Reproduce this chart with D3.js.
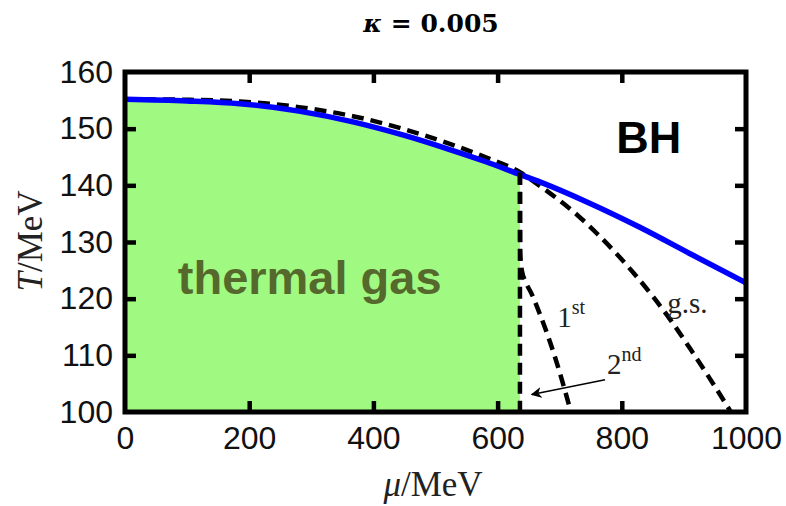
<!DOCTYPE html>
<html>
<head>
<meta charset="utf-8">
<script src="https://cdn.jsdelivr.net/npm/d3@7"></script>
<style>
  html, body { margin: 0; padding: 0; background: #fff; }
  svg { display: block; }
</style>
</head>
<body>
<svg id="chart" width="786" height="506"></svg>
<script>
// Phase boundaries in the (mu, T) plane, MeV
const bhMu = [0, 100, 185, 280, 367, 450, 523, 580, 636, 668, 749, 829, 914, 1000];
const bhT  = [155.2, 154.9, 154.4, 153.1, 151.2, 148.8, 146.3, 144.2, 141.9, 140.6, 136.8, 132.6, 127.7, 122.8];

const gsMu = [0, 100, 185, 280, 367, 450, 523, 580, 636, 668, 700, 730, 760, 790, 820, 850, 880, 910, 940, 970, 985];
const gsT  = [155.2, 155.1, 154.8, 153.8, 152.2, 149.9, 147.3, 145.0, 142.3, 139.9, 137.3, 134.6, 131.5, 128.1, 124.4, 120.4, 116.0, 111.2, 106.2, 101.0, 98.3];

const firstMu = [636, 636.5, 639, 645, 655, 668, 684, 700, 718];
const firstT  = [142.2, 128.0, 125.0, 123.0, 120.8, 117.3, 112.5, 107.0, 100.0];

const secondMu = [636, 636];
const secondT  = [142.2, 100.0];

const xTicks = [0, 200, 400, 600, 800, 1000];
const yTicks = [100, 110, 120, 130, 140, 150, 160];

const svg = d3.select("#chart");
const margin = { left: 125, right: 40, top: 72, bottom: 94 };
const W = 786, H = 506;
const iw = W - margin.left - margin.right;
const ih = H - margin.top - margin.bottom;

const x = d3.scaleLinear().domain([0, 1000]).range([0, iw]);
const y = d3.scaleLinear().domain([100, 160]).range([ih, 0]);

const zip = (a, b) => a.map((v, i) => [v, b[i]]);
const serif = "'Liberation Serif', 'Times New Roman', serif";
const sans = "'Liberation Sans', Arial, sans-serif";

// Title
svg.append("text")
  .attr("x", 431).attr("y", 32)
  .attr("text-anchor", "middle")
  .style("font-family", "'DejaVu Serif', serif")
  .style("font-weight", "bold")
  .style("font-size", "25px")
  .html("<tspan font-style='italic'>κ</tspan> = 0.005");

const g = svg.append("g").attr("transform", `translate(${margin.left},${margin.top})`);

g.append("clipPath").attr("id", "plotClip")
  .append("rect").attr("x", 0).attr("y", 0).attr("width", iw).attr("height", ih);

const plot = g.append("g").attr("clip-path", "url(#plotClip)");

const smoothLine = d3.line().x(d => x(d[0])).y(d => y(d[1])).curve(d3.curveMonotoneX);

// Thermal gas region: below the boundary, left of the vertical line
const fillPts = zip(bhMu, bhT).filter(d => d[0] <= 636);
plot.append("path")
  .datum(fillPts)
  .attr("d", d3.area().x(d => x(d[0])).y0(y(100)).y1(d => y(d[1])).curve(d3.curveMonotoneX))
  .attr("fill", "#a0fa82");

const dashed = sel => sel.attr("fill", "none").attr("stroke", "#000")
  .attr("stroke-width", 4.5).attr("stroke-dasharray", "12,7");

// ground state boundary
plot.append("path").datum(zip(gsMu, gsT)).attr("d", smoothLine).call(dashed);

// black-hole boundary
plot.append("path").datum(zip(bhMu, bhT)).attr("d", smoothLine)
  .attr("fill", "none").attr("stroke", "#0000ff").attr("stroke-width", 5.5);

// first excited state
plot.append("path").datum(zip(firstMu, firstT)).attr("d", smoothLine).call(dashed);

// second excited state
plot.append("path").datum(zip(secondMu, secondT))
  .attr("d", d3.line().x(d => x(d[0])).y(d => y(d[1])))
  .call(dashed);

// Region labels
g.append("text")
  .attr("x", x(85)).attr("y", y(120.9))
  .style("font-family", sans)
  .style("font-weight", "bold").style("font-size", "47px")
  .attr("fill", "#55692c")
  .text("thermal gas");

g.append("text")
  .attr("x", x(791)).attr("y", y(145.7))
  .style("font-family", sans)
  .style("font-weight", "bold").style("font-size", "45px")
  .attr("fill", "#000")
  .text("BH");

// curve labels
g.append("text")
  .attr("x", x(873)).attr("y", y(117.4))
  .style("font-family", serif).style("font-size", "29px").attr("fill", "#222")
  .text("g.s.");

const lab1 = g.append("text")
  .attr("x", x(696)).attr("y", y(115))
  .style("font-family", serif).style("font-size", "29px").attr("fill", "#222");
lab1.append("tspan").text("1");
lab1.append("tspan").attr("dy", -13).style("font-size", "20px").text("st");

const lab2 = g.append("text")
  .attr("x", x(776)).attr("y", y(106.7))
  .style("font-family", serif).style("font-size", "29px").attr("fill", "#222");
lab2.append("tspan").text("2");
lab2.append("tspan").attr("dy", -13).style("font-size", "20px").text("nd");

// arrow pointing to the second excited state line
svg.append("defs").append("marker")
  .attr("id", "arrowHead")
  .attr("viewBox", "0 0 10 10")
  .attr("refX", 9).attr("refY", 5)
  .attr("markerWidth", 11).attr("markerHeight", 11)
  .attr("markerUnits", "userSpaceOnUse")
  .attr("orient", "auto")
  .append("path").attr("d", "M0,0 L10,5 L0,10 L3,5 Z").attr("fill", "#000");

g.append("line")
  .attr("x1", x(773)).attr("y1", y(105.7))
  .attr("x2", x(655)).attr("y2", y(103.1))
  .attr("stroke", "#000").attr("stroke-width", 1.6)
  .attr("marker-end", "url(#arrowHead)");

// Axes with inward ticks on all four sides
const tickLen = 11;
const styleAxis = sel => {
  sel.select(".domain").remove();
  sel.selectAll(".tick line").attr("stroke", "#000").attr("stroke-width", 4.5);
  sel.selectAll(".tick text")
    .style("font-family", sans)
    .style("font-size", "32px").attr("fill", "#111");
};

g.append("g").attr("transform", `translate(0,${ih})`)
  .call(d3.axisBottom(x).tickValues(xTicks).tickSize(-tickLen).tickPadding(14).tickFormat(d3.format("d")))
  .call(styleAxis)
  .call(s => s.selectAll(".tick").filter(d => d === 0 || d === 1000).select("line").remove());

g.append("g")
  .call(d3.axisTop(x).tickValues(xTicks.filter(d => d > 0 && d < 1000)).tickSize(-tickLen).tickFormat(""))
  .call(styleAxis);

g.append("g")
  .call(d3.axisLeft(y).tickValues(yTicks).tickSize(-tickLen).tickPadding(12).tickFormat(d3.format("d")))
  .call(styleAxis)
  .call(s => s.selectAll(".tick").filter(d => d === 100 || d === 160).select("line").remove());

g.append("g").attr("transform", `translate(${iw},0)`)
  .call(d3.axisRight(y).tickValues(yTicks.filter(d => d > 100 && d < 160)).tickSize(-tickLen).tickFormat(""))
  .call(styleAxis);

// frame
g.append("rect")
  .attr("x", 0).attr("y", 0).attr("width", iw).attr("height", ih)
  .attr("fill", "none").attr("stroke", "#000").attr("stroke-width", 5);

// Axis titles
svg.append("text")
  .attr("x", 433).attr("y", 496)
  .attr("text-anchor", "middle")
  .style("font-family", serif).style("font-size", "35px").attr("fill", "#222")
  .html("<tspan font-style='italic'>μ</tspan>/MeV");

svg.append("text")
  .attr("transform", "translate(42,241) rotate(-90)")
  .attr("text-anchor", "middle")
  .style("font-family", serif).style("font-size", "35px").attr("fill", "#222")
  .html("<tspan font-style='italic'>T</tspan>/MeV");
</script>
</body>
</html>
